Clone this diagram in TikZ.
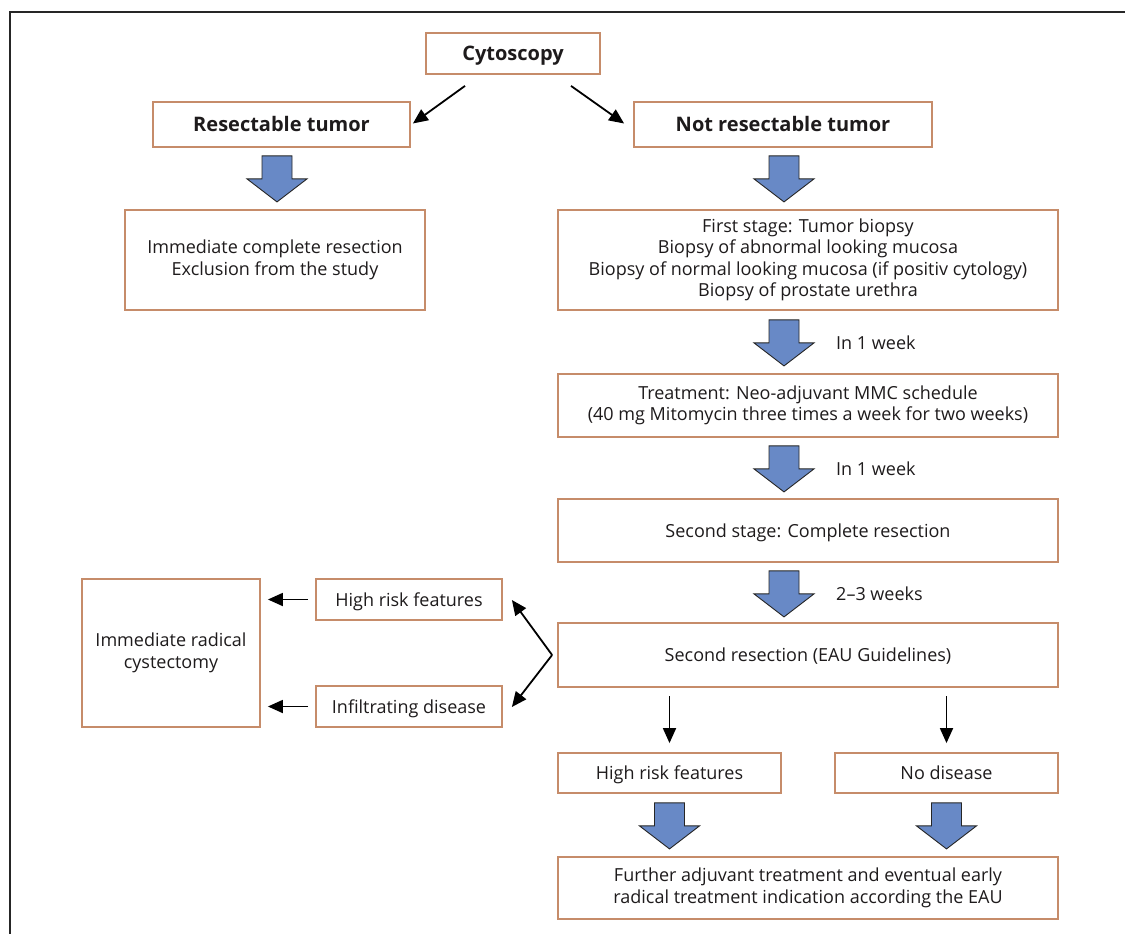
\documentclass[tikz,border=0pt]{standalone}
\usepackage{fontspec}
\setmainfont{Open Sans}
\usetikzlibrary{calc,arrows.meta}
\definecolor{boxc}{RGB}{198,140,106}
\definecolor{bluef}{RGB}{104,137,198}
\definecolor{txt}{RGB}{30,27,28}
\tikzset{
  box/.style={draw=boxc,line width=1.8pt,fill=white,inner sep=2pt,align=center,
    text=txt,font=\fontsize{18}{21.5}\selectfont},
  one/.style={text height=13pt,text depth=0pt},
  bbox/.style={box,text height=14.5pt,text depth=0pt,font=\fontsize{20}{24}\selectfont\bfseries},
  conn/.style={draw=black,line width=1.8pt,-{Triangle[length=15pt,width=13pt]}},
  lbl/.style={anchor=west,text=txt,font=\fontsize{18}{21}\selectfont,inner sep=0pt},
  bigarrow/.pic={\draw[fill=bluef,line width=0.9pt,draw=black!85]
     (-15,0) -- (15,0) -- (15,23) -- (30,23) -- (0,46) -- (-30,23) -- (-15,23) -- cycle;}
}
\begin{document}
\begin{tikzpicture}[x=1pt,y=-1pt]
\useasboundingbox (0,0) rectangle (1125,934);
\draw[line width=1.3pt,draw=black!85] (10,960) -- (10,12) -- (1140,12);
% nodes
\node[bbox,minimum width=174pt,minimum height=41pt] (cyto) at (513,53.5) {Cytoscopy};
\node[bbox,minimum width=257pt,minimum height=45pt] (res) at (281.5,124.5) {Resectable tumor};
\node[bbox,minimum width=298pt,minimum height=45pt] (nres) at (783,124.5) {Not resectable tumor};
\node[box,minimum width=300pt,minimum height=100pt] (imm) at (275,260) {Immediate complete resection\\Exclusion from the study};
\node[box,minimum width=500pt,minimum height=100pt] (first) at (808,260) {First stage: Tumor biopsy\\Biopsy of abnormal looking mucosa\\Biopsy of normal looking mucosa (if positiv cytology)\\Biopsy of prostate urethra};
\node[box,minimum width=500pt,minimum height=63pt] (treat) at (808,405.5) {Treatment: Neo-adjuvant MMC schedule\\(40 mg Mitomycin three times a week for two weeks)};
\node[box,one,minimum width=500pt,minimum height=63pt] (sec) at (808,530.5) {Second stage: Complete resection};
\node[box,one,minimum width=500pt,minimum height=64pt] (secres) at (808,655) {Second resection (EAU Guidelines)};
\node[box,one,minimum width=186pt,minimum height=41pt] (hr) at (409,599.5) {High risk features};
\node[box,one,minimum width=186pt,minimum height=41pt] (inf) at (409,706.5) {Infiltrating disease};
\node[box,minimum width=178pt,minimum height=148pt] (cyst) at (171,653) {Immediate radical\\cystectomy};
\node[box,one,minimum width=223pt,minimum height=40pt] (hrb) at (669.5,773) {High risk features};
\node[box,one,minimum width=223pt,minimum height=40pt] (nod) at (946.5,773) {No disease};
\node[box,minimum width=500pt,minimum height=62pt] (fur) at (808,888) {Further adjuvant treatment and eventual early\\radical treatment indication according the EAU};
% thin connectors
\draw[conn] ($(cyto.south)+(-48,11)$) -- ($(res.east)+(2,-1)$);
\draw[conn] ($(cyto.south)+(58,11)$) -- ($(nres.west)+(-9,-1)$);
\coordinate (v) at ($(secres.west)+(-5,0)$);
\draw[conn] (v) -- ($(hr.east)+(9,0.5)$);
\draw[conn] (v) -- ($(inf.east)+(9,0.5)$);
\draw[conn] ($(hr.west)+(-7,0)$) -- ($(cyst.east|-hr.west)+(7,0)$);
\draw[conn] ($(inf.west)+(-7,0)$) -- ($(cyst.east|-inf.west)+(7,0)$);
\draw[conn] ($(hrb.north)+(0,-56)$) -- ($(hrb.north)+(0,-9)$);
\draw[conn] ($(nod.north)+(0,-56)$) -- ($(nod.north)+(0,-9)$);
% block arrows
\pic at ($(res.south)+(-4.5,8)$) {bigarrow};
\pic at ($(nres.south)+(1,8)$) {bigarrow};
\pic at ($(first.south)+(-24,9)$) {bigarrow};
\pic at ($(treat.south)+(-24,8)$) {bigarrow};
\pic at ($(sec.south)+(-24,8)$) {bigarrow};
\pic at ($(hrb.south)+(0,9)$) {bigarrow};
\pic at ($(nod.south)+(0,9)$) {bigarrow};
% labels
\node[lbl] (l1) at (836,343) {In 1 week};
\node[lbl] (l2) at (836,469) {In 1 week};
\node[lbl] (l3) at (836,594) {2--3 weeks};
\end{tikzpicture}
\end{document}
